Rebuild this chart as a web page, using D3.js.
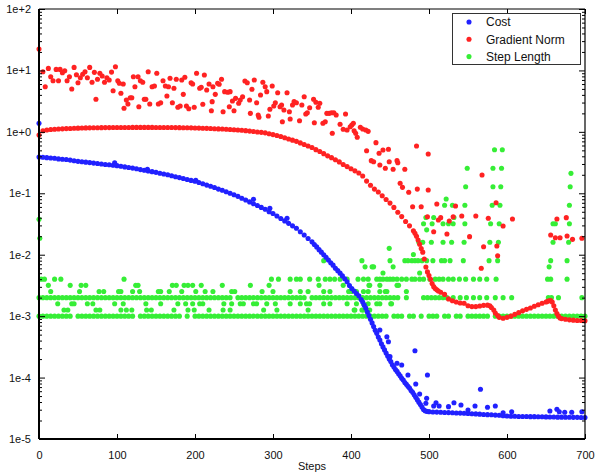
<!DOCTYPE html>
<html><head><meta charset="utf-8">
<script src="https://cdn.jsdelivr.net/npm/d3@7"></script>
<style>body{margin:0;background:#fff}svg{display:block}</style>
</head><body>
<svg id="c" width="596" height="473"></svg>
<script>
// ---------------- DATA ----------------
const xTicks = [0,100,200,300,400,500,600,700];
const yTicks = [1e2,1e1,1e0,1e-1,1e-2,1e-3,1e-4,1e-5];
const yTickLabels = ["1e+2","1e+1","1e+0","1e-1","1e-2","1e-3","1e-4","1e-5"];
const seriesNames = ["Cost","Gradient Norm","Step Length"];
const xLabel = "Steps";

// Cost: [step, value]
const costMain = [
[0,3.9e-1],[5,3.85e-1],[10,3.8e-1],[15,3.76e-1],[20,3.72e-1],[25,3.63e-1],[30,3.59e-1],[35,3.55e-1],[40,3.47e-1],[45,3.39e-1],
[50,3.31e-1],[55,3.26e-1],[60,3.21e-1],[65,3.16e-1],[70,3.1e-1],[75,3.05e-1],[80,3.0e-1],[85,2.95e-1],[90,2.91e-1],[95,2.86e-1],
[100,2.82e-1],[105,2.75e-1],[110,2.69e-1],[115,2.63e-1],[120,2.57e-1],[125,2.51e-1],[130,2.43e-1],[135,2.37e-1],[140,2.31e-1],[145,2.25e-1],
[150,2.19e-1],[155,2.12e-1],[160,2.06e-1],[165,2.0e-1],[170,1.93e-1],[175,1.86e-1],[180,1.8e-1],[185,1.74e-1],[190,1.68e-1],[195,1.62e-1],
[200,1.57e-1],[205,1.5e-1],[210,1.43e-1],[215,1.36e-1],[220,1.3e-1],[225,1.24e-1],[230,1.17e-1],[235,1.12e-1],[240,1.06e-1],[245,1.0e-1],
[250,9.44e-2],[255,8.91e-2],[260,8.32e-2],[265,7.76e-2],[270,7.24e-2],[275,6.76e-2],[280,6.31e-2],[285,5.89e-2],[290,5.5e-2],[295,5.01e-2],
[300,4.68e-2],[305,4.27e-2],[310,3.89e-2],[315,3.55e-2],[320,3.24e-2],[325,2.95e-2],[330,2.69e-2],[335,2.37e-2],[340,2.09e-2],[345,1.84e-2],
[350,1.62e-2],[353,1.47e-2],[356,1.34e-2],[359,1.21e-2],[362,1.1e-2],[365,1.0e-2],[368,9.08e-3],[371,8.22e-3],[374,7.41e-3],[377,6.76e-3],
[380,6.03e-3],[383,5.5e-3],[386,5.01e-3],[389,4.52e-3],[392,4.07e-3],[395,3.63e-3],[398,3.16e-3],[401,2.82e-3],[404,2.57e-3],[407,2.34e-3],
[410,2.14e-3],[413,1.86e-3],
[415,1.7e-3],[417,1.51e-3],[419,1.35e-3],[421,1.17e-3],[423,1.02e-3],[425,8.91e-4],[427,7.76e-4],[429,6.76e-4],[431,5.89e-4],[433,5.25e-4],
[435,4.57e-4],[437,4.07e-4],[439,3.55e-4],[441,3.16e-4],[443,2.82e-4],[445,2.51e-4],[447,2.24e-4],[449,2.0e-4],[451,1.82e-4],[453,1.62e-4],
[455,1.48e-4],[457,1.35e-4],[459,1.26e-4],[461,1.15e-4],[463,1.07e-4],[465,9.77e-5],[467,9.12e-5],[469,8.32e-5],[471,7.76e-5],[473,7.24e-5],
[475,6.76e-5],[477,6.17e-5],[479,5.75e-5],[481,5.25e-5],[483,4.79e-5],[485,4.37e-5],[487,3.98e-5],[489,3.63e-5],[491,3.31e-5],[493,3.02e-5],
[495,2.88e-5],[497,2.82e-5],
[500,2.79e-5],[505,2.75e-5],[510,2.74e-5],[515,2.72e-5],[520,2.7e-5],[525,2.69e-5],[530,2.67e-5],[535,2.65e-5],[540,2.64e-5],[545,2.63e-5],
[550,2.61e-5],[555,2.58e-5],[560,2.56e-5],[565,2.54e-5],[570,2.51e-5],[575,2.49e-5],[580,2.48e-5],[585,2.45e-5],[590,2.43e-5],[595,2.4e-5],
[600,2.37e-5],[605,2.34e-5],[610,2.34e-5],[615,2.33e-5],[620,2.33e-5],[625,2.32e-5],[630,2.31e-5],[635,2.31e-5],[640,2.3e-5],[645,2.3e-5],
[650,2.29e-5],[655,2.28e-5],[660,2.28e-5],[665,2.27e-5],[670,2.27e-5],[675,2.26e-5],[680,2.26e-5],[685,2.25e-5],[690,2.25e-5],[695,2.24e-5],
[700,2.24e-5]];

const costOutliers = [
[0,1.38],[97,0.315],[139,0.246],[201,0.163],[275,0.0798],[296,0.057],[318,0.0392],[437,5.95e-4],[446,4.63e-4],[448,3.84e-4],
[450,2.19e-4],[459,1.71e-4],[465,1.6e-4],[473,1.1e-4],[482,2.74e-4],[483,7.87e-5],[488,5.41e-5],[498,1.1e-4],[497,4.6e-5],[496,3.81e-5],
[506,3.44e-5],[509,3.9e-5],[513,3.44e-5],[525,3.36e-5],[532,3.9e-5],[541,3.58e-5],[550,2.96e-5],[559,3.44e-5],[566,6.44e-5],[575,3.28e-5],
[585,3.44e-5],[595,2.68e-5],[606,2.78e-5],[655,2.86e-5],[664,3.05e-5],[667,2.78e-5],[674,2.72e-5],[683,2.72e-5],[696,2.78e-5]];

// Gradient norm: [step, value]
const gradMain = [
[0,0.891],[5,1.04],[10,1.07],[15,1.09],[20,1.1],[25,1.11],[30,1.12],[35,1.13],[40,1.137],[45,1.144],
[50,1.15],[55,1.155],[60,1.16],[65,1.162],[70,1.165],[75,1.167],[80,1.17],[85,1.172],[90,1.174],[95,1.175],
[100,1.177],[105,1.178],[110,1.18],[115,1.18],[120,1.181],[125,1.182],[130,1.182],[135,1.182],[140,1.182],[145,1.181],
[150,1.18],[155,1.18],[160,1.178],[165,1.177],[170,1.175],[175,1.173],[180,1.17],[185,1.168],[190,1.165],[195,1.162],
[200,1.158],[205,1.152],[210,1.146],[215,1.14],[220,1.133],[225,1.126],[230,1.118],[235,1.11],[240,1.102],[245,1.094],
[250,1.085],[255,1.075],[260,1.064],[265,1.047],[270,1.028],[275,1.012],[280,0.995],[285,0.982],[290,0.964],[295,0.933],
[300,0.902],[305,0.871],[310,0.841],[315,0.804],[320,0.767],[325,0.733],[330,0.7],[335,0.661],[340,0.624],[345,0.589],
[350,0.556],[355,0.513],[360,0.479],[365,0.442],[370,0.407],[375,0.38],[380,0.351],[385,0.324],[390,0.295],[395,0.272],
[400,0.251],[405,0.232],[410,0.214],[415,0.191],[420,0.158],[425,0.135],[430,0.117],[435,0.105],[440,0.0912],[445,0.0794],
[450,0.0692],[455,0.0589],[460,0.049],[465,0.0417],[470,0.0347],[475,0.0295],
[480,2.45e-2],[482,2.24e-2],[484,2.0e-2],[486,1.74e-2],[488,1.48e-2],[490,1.26e-2],[492,1.1e-2],[494,8.51e-3],[496,6.31e-3],[498,5.25e-3],
[500,4.57e-3],[502,3.98e-3],[504,3.39e-3],[506,3.02e-3],[508,2.82e-3],[510,2.69e-3],[512,2.57e-3],
[515,2.45e-3],[520,2.26e-3],[525,1.91e-3],[530,1.78e-3],[535,1.7e-3],[540,1.64e-3],[545,1.62e-3],[550,1.48e-3],[555,1.43e-3],[560,1.43e-3],
[565,1.46e-3],[570,1.5e-3],[575,1.51e-3],[578,1.48e-3],[580,1.38e-3],[583,1.26e-3],[585,1.12e-3],[588,1.02e-3],[590,9.55e-4],[595,9.23e-4],
[600,9.55e-4],[605,1.0e-3],[610,1.07e-3],[615,1.14e-3],[620,1.22e-3],[625,1.29e-3],[630,1.36e-3],[635,1.45e-3],[640,1.53e-3],[645,1.62e-3],
[650,1.7e-3],[652,1.74e-3],[654,1.78e-3],[656,1.8e-3],[658,1.7e-3],[660,1.48e-3],[662,1.26e-3],[664,1.1e-3],[666,1.0e-3],[668,9.33e-4],
[670,9.12e-4],[675,8.91e-4],[680,8.71e-4],[685,8.61e-4],[690,8.51e-4],[695,8.51e-4],[700,8.41e-4]];

const gradOutliers = [
[0,22.3],[5,9.5],[8,5.43],[12,10.8],[15,7.9],[18,6.8],[22,10.4],[25,6.8],[27,10.4],[30,9.2],[33,9.9],[36,6.8],[39,7.9],[42,4.99],
[45,11.2],[48,8.5],[50,6.31],[53,7.62],[56,8.65],[59,9.5],[62,7.62],[65,11.2],[68,6.41],[71,9.3],[73,3.39],[75,7.17],[78,9.0],
[81,8.1],[84,6.41],[87,7.62],[90,6.98],[93,9.4],[95,4.68],[98,11.5],[101,6.8],[103,6.17],[105,4.24],[108,6.01],[109,2.42],[112,3.3],
[114,2.84],[117,3.6],[119,3.6],[121,7.9],[123,5.43],[127,7.9],[128,2.57],[130,6.8],[133,6.41],[135,3.39],[137,3.39],[140,9.5],
[142,2.84],[145,5.43],[148,5.58],[151,9.0],[153,2.84],[156,2.98],[159,6.8],[162,5.58],[164,3.84],[166,5.43],[168,7.45],[171,2.98],
[173,5.12],[176,7.17],[178,2.51],[181,2.64],[183,6.98],[185,4.08],[187,7.73],[189,2.64],[192,2.38],[195,6.31],[197,6.01],[199,2.51],
[202,9.0],[206,5.12],[208,5.31],[210,2.81],[212,8.43],[215,4.8],[218,6.01],[221,2.21],[222,3.1],[223,5.43],[226,4.08],[229,6.17],
[231,5.94],[234,7.17],[236,2.13],[238,4.51],[242,4.41],[244,2.57],[245,4.51],[248,3.18],[250,2.21],[252,3.51],[256,2.92],[258,3.3],
[261,3.73],[264,6.73],[267,6.31],[270,3.3],[271,2.0],[273,4.93],[276,6.98],[279,2.98],[281,1.88],[282,1.73],[284,3.98],[287,6.41],
[290,5.43],[292,4.51],[294,1.81],[296,2.33],[299,5.58],[301,2.64],[303,2.98],[306,4.34],[309,2.57],[311,2.74],[312,1.46],[314,2.27],
[318,4.34],[321,2.13],[322,1.62],[325,2.74],[327,3.1],[330,2.98],[334,1.52],[337,2.74],[340,3.73],[342,1.95],[344,2.05],[347,2.47],
[352,3.39],[353,1.41],[355,3.03],[358,2.51],[360,2.92],[364,1.38],[367,1.46],[369,2.0],[372,2.0],[375,2.05],[376,0.947],[378,2.05],
[381,1.88],[386,1.33],[390,1.1],[393,1.95],[395,1.07],[399,1.21],[401,1.29],[403,1.38],[404,1.04],[406,0.947],[408,0.815],[412,1.19],
[415,1.11],[419,1.07],[422,1.02],[420,0.493],[426,0.34],[429,0.327],[432,0.667],[436,0.448],[437,0.289],[441,0.507],[444,0.255],
[448,0.52],[449,0.327],[454,0.246],[459,0.34],[460,0.315],[469,0.246],[484,0.589],[499,0.436],[463,0.146],[466,0.125],[474,0.104],
[485,0.117],[499,0.113],[479,0.0605],[490,0.0605],[568,0.199],[586,0.07],[510,0.067],[534,0.0621],[498,0.0416],[512,0.0368],
[515,0.0401],[526,0.0354],[506,0.0237],[531,0.0416],[542,0.0427],[560,0.0427],[576,0.0392],[595,0.0294],[607,0.0382],[523,0.0217],
[552,0.0197],[570,0.0135],[587,0.0139],[588,9.64e-3],[567,6.01e-3],[664,0.0382],[676,0.0401],[656,0.0209],[662,0.0189],[668,0.0189],
[677,0.0202],[684,0.0178],[696,0.0185]];

// Step length: [value, steps at that value]
const stepLength = [
[0.001,[0,5,10,15,20,25,30,35,40,50,55,60,65,70,75,80,85,90,95,100,105,110,115,120,130,135,140,145,150,155,160,165,170,175,180,190,
 200,205,210,215,220,225,230,235,240,245,250,255,260,265,270,275,280,285,290,295,300,305,310,315,320,325,330,335,340,345,350,355,360,
 365,370,375,380,385,390,395,400,405,410,415,420,425,430,435,440,445,455,460,465,475,480,490,500,505,510,520,525,535,540,550,555,560,
 565,570,575,585,590,595,600,605,610,615,620,625,630,635,640,645,650,655,660,665,670,675,680,685,690,695,700]],
[0.00126,[32,37,73,78,105,112,119,138,144,173,191,199,218,236,245,288,305,345,404,405,414,416,424]],
[0.00159,[24,42,45,62,69,97,108,137,156,178,188,197,206,210,237,247,258,262,275,279,292,303,322,335,343,347,365,373,395,407,416,422,433,437,451,452]],
[0.002,[0,5,10,15,20,25,30,35,40,45,50,55,60,65,70,75,80,85,90,95,100,105,110,115,120,125,130,135,140,145,150,155,160,165,170,175,180,
 185,190,195,200,205,210,215,220,225,230,235,240,245,255,260,265,270,275,280,285,290,295,300,305,310,315,320,325,330,335,340,350,355,
 360,365,370,375,380,385,390,395,400,405,410,415,420,425,430,435,440,445,450,455,460,471,493,498,503,508,513,518,523,531,540,548,557,
 565,574,585,595,606,653,657,666,696]],
[0.00252,[15,52,77,83,102,105,120,129,153,156,167,183,201,213,223,247,251,286,300,322,335,345,365,373,397,401,407,416,422,437,444,446,471]],
[0.00317,[12,40,54,60,124,127,171,176,186,191,197,208,235,271,295,359,390,423,424,437,459,461]],
[0.004,[3,7,20,28,109,298,307,322,330,335,347,358,367,373,379,386,395,409,416,422,433,437,441,446,450,454,459,465,471,478,482,488,493,
 501,508,513,518,525,531,539,547,557,565,574,586,652,656,677]],
[0.00504,[441,488]],
[0.00635,[418,427,429,454,654]],
[0.008,[365,414,450,469,473,478,482,486,491,497,505,516,520,527,544,577,588,656,677]],
[0.0101,[480]],
[0.0127,[449]],
[0.016,[487,492,503,518,529,545,578,589,659,679]],
[0.0185,[1]],
[0.0254,[497]],
[0.032,[493,504,518,525,531,546,579,590,659,662,680]],
[0.0377,[0]],
[0.0403,[496,506,532]],
[0.064,[520,530,546,581,591,680]],
[0.0806,[522]],
[0.128,[547,582,592,681]],
[0.211,[682]],
[0.256,[549,582,593]],
[0.512,[584,594]]];

// ---------------- CHART ----------------
const colors = ["#2121ff", "#ff2222", "#36ee36"];
const R = 2.55;
const font = "'Liberation Sans', Arial, Helvetica, sans-serif";
const svg = d3.select("#c");
const x = d3.scaleLinear().domain([0, 700]).range([39, 585]);
const y = d3.scaleLog().domain([1e-5, 1e2]).range([439, 9]);

// points: step length, gradient, cost
const gS = svg.append("g");
stepLength.forEach(([v, steps]) => {
  gS.selectAll(null).data(steps).join("circle")
    .attr("cx", d => x(d)).attr("cy", y(v)).attr("r", R).attr("fill", colors[2]);
});
const gG = svg.append("g");
gG.selectAll(null).data(gradMain.concat(gradOutliers)).join("circle")
  .attr("cx", d => x(d[0])).attr("cy", d => y(d[1])).attr("r", R).attr("fill", colors[1]);
const gC = svg.append("g");
gC.selectAll(null).data(costMain.concat(costOutliers)).join("circle")
  .attr("cx", d => x(d[0])).attr("cy", d => y(d[1])).attr("r", R).attr("fill", colors[0]);

// axes
const isMajor = t => yTicks.some(m => Math.abs(Math.log10(t) - Math.log10(m)) < 1e-6);
const minor = y.ticks().filter(t => !isMajor(t));

function styleAxis(g) {
  g.select(".domain").remove();
  g.selectAll("line").attr("stroke", "#000").attr("stroke-width", 1);
  g.selectAll("text").attr("font-family", font).attr("font-size", 11).attr("fill", "#111");
}
svg.append("g").attr("transform", "translate(39,0)")
  .call(d3.axisLeft(y).tickValues(yTicks).tickFormat((d, i) => yTickLabels[i]).tickSizeInner(-6).tickSizeOuter(0).tickPadding(8))
  .call(styleAxis);
svg.append("g").attr("transform", "translate(39,0)")
  .call(d3.axisLeft(y).tickValues(minor).tickFormat("").tickSizeInner(-3).tickSizeOuter(0))
  .call(styleAxis);
svg.append("g").attr("transform", "translate(585,0)")
  .call(d3.axisRight(y).tickValues(yTicks).tickFormat("").tickSizeInner(-6).tickSizeOuter(0))
  .call(styleAxis);
svg.append("g").attr("transform", "translate(585,0)")
  .call(d3.axisRight(y).tickValues(minor).tickFormat("").tickSizeInner(-3).tickSizeOuter(0))
  .call(styleAxis);
svg.append("g").attr("transform", "translate(0,439)")
  .call(d3.axisBottom(x).tickValues(xTicks).tickFormat(d3.format("d")).tickSizeInner(-5).tickSizeOuter(0).tickPadding(12))
  .call(styleAxis);
svg.append("g").attr("transform", "translate(0,9)")
  .call(d3.axisTop(x).tickValues(xTicks).tickFormat("").tickSizeInner(-5).tickSizeOuter(0))
  .call(styleAxis);

// frame
const [x0, x1] = x.range(), [y0, y1] = y.range();
svg.append("line").attr("x1", x0).attr("x2", x1).attr("y1", y1).attr("y2", y1).attr("stroke", "#000").attr("stroke-width", 1.2);
svg.append("line").attr("x1", x1).attr("x2", x1).attr("y1", y1).attr("y2", y0).attr("stroke", "#000").attr("stroke-width", 1.2);
svg.append("line").attr("x1", x0).attr("x2", x1).attr("y1", y0).attr("y2", y0).attr("stroke", "#000").attr("stroke-width", 2);
svg.append("line").attr("x1", x0).attr("x2", x0).attr("y1", y1).attr("y2", y0).attr("stroke", "#000").attr("stroke-width", 2);

// x label
svg.append("text").attr("x", (x0 + x1) / 2).attr("y", 470).attr("text-anchor", "middle")
  .attr("font-family", font).attr("font-size", 11).attr("fill", "#111").text(xLabel);

// legend
const lg = svg.append("g");
lg.append("rect").attr("x", 452.5).attr("y", 13.5).attr("width", 128).attr("height", 51)
  .attr("fill", "#fff").attr("stroke", "#333").attr("stroke-width", 1);
seriesNames.forEach((name, i) => {
  const cy = 22 + i * 17.3;
  lg.append("circle").attr("cx", 469).attr("cy", cy).attr("r", R).attr("fill", colors[i]);
  lg.append("text").attr("x", 486).attr("y", cy).attr("dy", "0.36em")
    .attr("font-family", font).attr("font-size", 12).attr("fill", "#111").text(name);
});
</script>
</body></html>
